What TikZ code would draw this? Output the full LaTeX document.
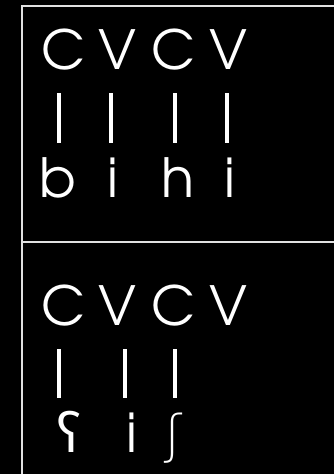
\documentclass[tikz,border=0pt]{standalone}
\usepackage{fontspec}
\setmainfont{TeX Gyre Adventor}
\newfontfamily\ipafont{DejaVu Sans}[UprightFont=* ExtraLight]
\newfontfamily\ipafontb{Noto Sans}
\begin{document}
\begin{tikzpicture}[x=1pt,y=-1pt,
  letter/.style={text=white,anchor=base,inner sep=0pt,font=\fontsize{54}{54}\selectfont},
  ipa/.style={letter,font=\fontsize{52}{52}\ipafont},
  ipab/.style={letter,font=\fontsize{54}{54}\ipafontb},
  bar/.style={draw=white,line width=3.5pt},
  rule/.style={draw=white!88!black,line width=2pt}]
\fill[black] (0,0) rectangle (334,474);
\useasboundingbox (0,0) rectangle (334,474);
% frame
\coordinate (tl) at (22,6);
\coordinate (tr) at (334,6);
\coordinate (bl) at (22,474);
\coordinate (ml) at (22,242);
\coordinate (mr) at (334,242);
\draw[rule] (tr) -- (tl) -- (bl);
\draw[rule] (ml) -- (mr);
% top cell
\node[letter] (c1) at (63,69) {C};
\node[letter] (v1) at (117.5,69) {V};
\node[letter] (c2) at (173,69) {C};
\node[letter] (v2) at (228.5,69) {V};
\node[letter] (b) at (58,197) {b};
\node[letter] (i1) at (112.5,197) {i};
\node[letter] (h) at (178,197) {h};
\node[letter] (i2) at (229.5,197) {i};
\foreach \n/\x in {a/59,b/111,c/175,d/227}{
  \coordinate (t\n) at (\x,93);
  \coordinate (u\n) at (\x,143);
  \draw[bar] (t\n) -- (u\n);
}
% bottom cell
\node[letter] (c3) at (63,325) {C};
\node[letter] (v3) at (117.5,325) {V};
\node[letter] (c4) at (173,325) {C};
\node[letter] (v4) at (228.5,325) {V};
\node[ipab] (ay) at (69,452) {ʕ};
\node[letter] (i3) at (132,452) {i};
\node[ipa] (sh) at (173,452) {ʃ};
\foreach \n/\x in {a/59,b/125,c/175}{
  \coordinate (p\n) at (\x,349);
  \coordinate (q\n) at (\x,398);
  \draw[bar] (p\n) -- (q\n);
}
\end{tikzpicture}
\end{document}
